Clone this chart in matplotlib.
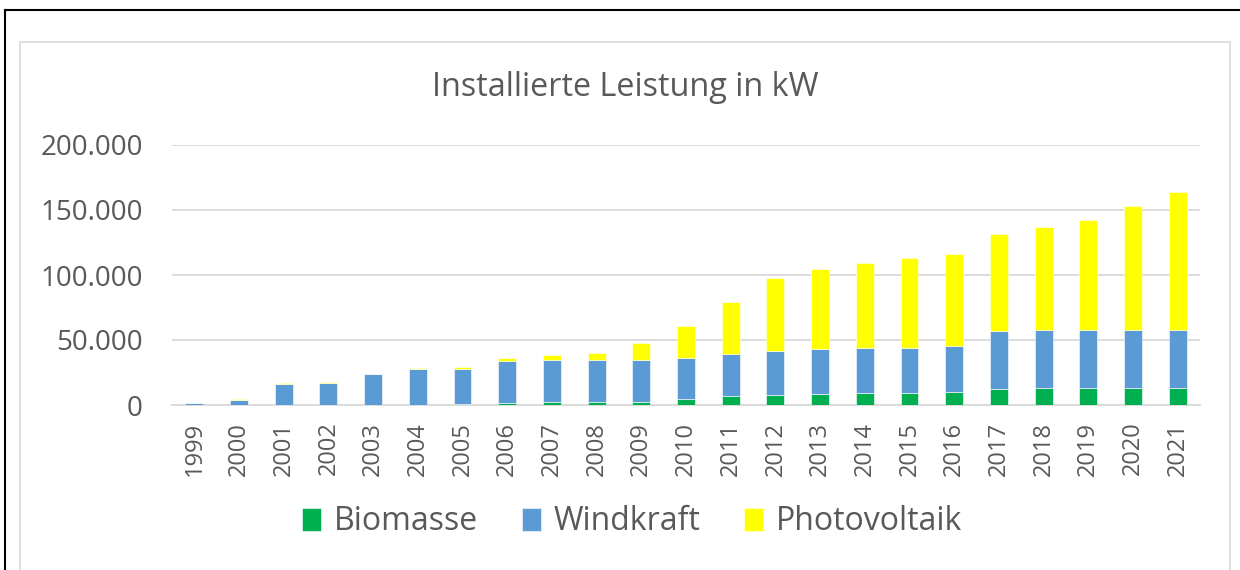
#!/usr/bin/env python3

import matplotlib
matplotlib.use('Agg')
import matplotlib.pyplot as plt
from matplotlib.lines import Line2D
from matplotlib.patches import Rectangle
from matplotlib.ticker import FuncFormatter
import numpy as np

years = ['1999', '2000', '2001', '2002', '2003', '2004', '2005', '2006',
         '2007', '2008', '2009', '2010', '2011', '2012', '2013', '2014',
         '2015', '2016', '2017', '2018', '2019', '2020', '2021']

biomasse = [0, 0, 0, 0, 0, 0, 800, 1800, 2600, 2600, 2600, 4400, 6700,
            7400, 8200, 9500, 9500, 10300, 12600, 13300, 13300, 13300, 13300]

windkraft = [1200, 4000, 16500, 17300, 23500, 27400, 27100, 32300, 32200,
             32200, 32200, 32000, 32800, 34400, 34600, 34300, 34300, 35100,
             44100, 44200, 44200, 44200, 44400]

photovoltaik = [300, 400, 400, 400, 300, 1300, 1300, 2300, 3400, 5200,
                12900, 24600, 40000, 55900, 62000, 65700, 69300, 71000,
                74600, 79400, 84800, 95800, 106100]

yticks = [0, 50000, 100000, 150000, 200000]

text_color = '#595959'
grid_color = '#D9D9D9'
bio_color = '#00B050'
wind_color = '#5B9BD5'
pv_color = '#FFFF00'

plt.rcParams['font.family'] = ['Open Sans', 'DejaVu Sans']

W, H = 1240, 570
fig = plt.figure(figsize=(W / 100, H / 100), dpi=100)

# outer black frame (top + left) and grey chart frame
fig.add_artist(Line2D([5 / W, 1], [1 - 9.5 / H, 1 - 9.5 / H], transform=fig.transFigure,
                      color='black', lw=1.5))
fig.add_artist(Line2D([5 / W, 5 / W], [0, 1 - 9.5 / H], transform=fig.transFigure,
                      color='black', lw=1.5))
fig.add_artist(Rectangle((20 / W, -0.05), 1210 / W, 1.05 - 42 / H, transform=fig.transFigure,
                         fill=False, edgecolor=grid_color, lw=1.2))

ax = fig.add_axes([172 / W, (H - 405) / H, 1028 / W, 260 / H])

x = np.arange(len(years))
bio = np.array(biomasse)
wind = np.array(windkraft)
pv = np.array(photovoltaik)
w = 0.4

ax.bar(x, bio, width=w, color=bio_color, edgecolor='white', linewidth=0.4,
       label='Biomasse', zorder=3)
ax.bar(x, wind, width=w, bottom=bio, color=wind_color, edgecolor='white', linewidth=0.4,
       label='Windkraft', zorder=3)
ax.bar(x, pv, width=w, bottom=bio + wind, color=pv_color, edgecolor='white', linewidth=0.4,
       label='Photovoltaik', zorder=3)

ax.set_xlim(-0.5, len(years) - 0.5)
ax.set_ylim(0, 200000)
ax.set_yticks(yticks)
ax.yaxis.set_major_formatter(FuncFormatter(lambda v, p: '{:,.0f}'.format(v).replace(',', '.')))
ax.set_xticks(x)
ax.set_xticklabels(years, rotation=90)

ax.grid(axis='y', color=grid_color, lw=1.3, zorder=0)
for s in ['top', 'right', 'left']:
    ax.spines[s].set_visible(False)
ax.spines['bottom'].set_color(grid_color)
ax.spines['bottom'].set_linewidth(1.3)
ax.tick_params(axis='y', length=0, pad=21, labelsize=20, labelcolor=text_color)
ax.tick_params(axis='x', length=0, pad=12, labelsize=17, labelcolor=text_color)

fig.text(625 / W, 1 - 87 / H, 'Installierte Leistung in kW', ha='center', va='center',
         fontsize=23.3, color=text_color)

leg = fig.legend(loc='center', bbox_to_anchor=(632 / W, 1 - 522 / H), ncol=3, frameon=False,
                 fontsize=23, handlelength=0.6, handleheight=0.7, handletextpad=0.4,
                 columnspacing=1.37)
for t in leg.get_texts():
    t.set_color(text_color)

plt.savefig('out.png', dpi=100)
